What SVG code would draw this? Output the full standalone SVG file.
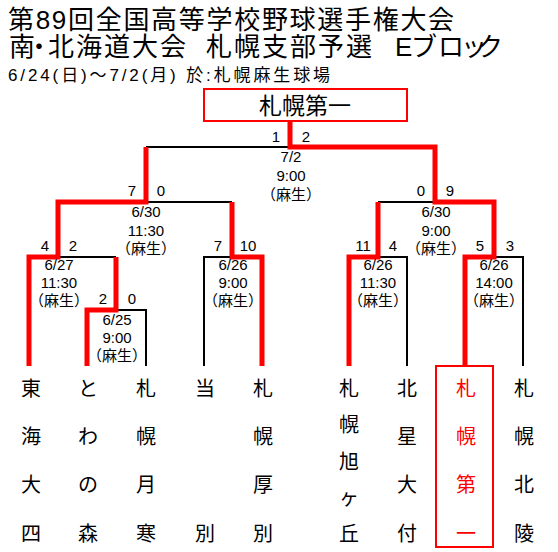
<svg xmlns="http://www.w3.org/2000/svg" width="558" height="552" viewBox="0 0 558 552">
<style>
text { font-family: "Liberation Sans", "Noto Sans CJK JP", sans-serif; fill: #000; }
.title { font-size: 26px; }
.sub { font-size: 17px; }
.lbl { font-size: 15px; text-anchor: middle; }
.team { font-size: 20px; text-anchor: middle; }
.win { fill: #ff0000; }
.red { stroke: #ff0000; stroke-width: 5; fill: none; stroke-linejoin: miter; }
.blk { stroke: #000; stroke-width: 2; fill: none; }
.box { stroke: #ff0000; stroke-width: 2; fill: #fff; }
</style>
<rect width="558" height="552" fill="#fff"/>
<g id="title">
<text class="title"><tspan x="8" y="29" letter-spacing="1.7">第89回全国高等学校野球選手権大会</tspan><tspan x="9 26 48 76 104 132 160 188 206 234 262 290 318 346 374 395 411 438 461 477" y="56">南・北海道大会　札幌支部予選　Eブロック</tspan><tspan class="sub" x="8" y="81" textLength="322" lengthAdjust="spacing">6/24(日)～7/2(月) 於:札幌麻生球場</tspan></text>
</g>
<g id="connectors">
<path class="blk" d="M146,147 H290"/>
<path class="blk" d="M58,257 H116"/>
<path class="blk" d="M116,310 H146 V366"/>
<path class="blk" d="M146,202 H232"/>
<path class="blk" d="M204,366 V257 H232"/>
<path class="blk" d="M378,202 H435"/>
<path class="blk" d="M378,257 H407 V366"/>
<path class="blk" d="M494,257 H523 V366"/>
<path class="red" d="M29,366 V257 H58 V202 H146 V147"/>
<path class="red" d="M87,366 V310 H116 V257"/>
<path class="red" d="M262,366 V257 H232 V202"/>
<path class="red" d="M349,366 V257 H378 V202"/>
<path class="red" d="M465,365 V257 H494 V202 H435 V147 H290 V121"/>
</g>
<g id="champion">
<rect class="box" x="204" y="89" width="203" height="32"/>
<text x="305" y="114" style="font-size:23px;text-anchor:middle">札幌第一</text>
</g>
<g id="labels">
<text class="lbl" x="276" y="142">1</text><text class="lbl" x="306" y="142">2</text>
<text class="lbl"><tspan x="291" y="162">7/2</tspan><tspan x="291" y="181">9:00</tspan><tspan x="291" y="200">（麻生）</tspan></text>
<text class="lbl" x="132" y="196">7</text><text class="lbl" x="161" y="196">0</text>
<text class="lbl"><tspan x="146" y="217">6/30</tspan><tspan x="146" y="236">11:30</tspan><tspan x="146" y="254">（麻生）</tspan></text>
<text class="lbl" x="421" y="196">0</text><text class="lbl" x="450" y="196">9</text>
<text class="lbl"><tspan x="436" y="217">6/30</tspan><tspan x="436" y="236">9:00</tspan><tspan x="436" y="254">（麻生）</tspan></text>
<text class="lbl" x="45" y="251">4</text><text class="lbl" x="73" y="251">2</text>
<text class="lbl"><tspan x="59" y="270">6/27</tspan><tspan x="59" y="288">11:30</tspan><tspan x="59" y="306">（麻生）</tspan></text>
<text class="lbl" x="103" y="304">2</text><text class="lbl" x="132" y="304">0</text>
<text class="lbl"><tspan x="117" y="325">6/25</tspan><tspan x="117" y="343">9:00</tspan><tspan x="117" y="361">（麻生）</tspan></text>
<text class="lbl" x="218" y="251">7</text><text class="lbl" x="248" y="251">10</text>
<text class="lbl"><tspan x="233" y="270">6/26</tspan><tspan x="233" y="288">9:00</tspan><tspan x="233" y="306">（麻生）</tspan></text>
<text class="lbl" x="363" y="251">11</text><text class="lbl" x="393" y="251">4</text>
<text class="lbl"><tspan x="378" y="270">6/26</tspan><tspan x="378" y="288">11:30</tspan><tspan x="378" y="306">（麻生）</tspan></text>
<text class="lbl" x="480" y="251">5</text><text class="lbl" x="510" y="251">3</text>
<text class="lbl"><tspan x="494" y="270">6/26</tspan><tspan x="494" y="288">14:00</tspan><tspan x="494" y="306">（麻生）</tspan></text>
</g>
<g id="team-tokaidai4"><text class="team"><tspan x="31" y="396">東</tspan><tspan x="31" y="444">海</tspan><tspan x="31" y="492">大</tspan><tspan x="31" y="541">四</tspan></text></g>
<g id="team-towanomori"><text class="team"><tspan x="88" y="396">と</tspan><tspan x="88" y="444">わ</tspan><tspan x="88" y="492">の</tspan><tspan x="88" y="541">森</tspan></text></g>
<g id="team-sapporo-tsukisamu"><text class="team"><tspan x="146" y="396">札</tspan><tspan x="146" y="444">幌</tspan><tspan x="146" y="492">月</tspan><tspan x="146" y="541">寒</tspan></text></g>
<g id="team-tobetsu"><text class="team"><tspan x="205" y="396">当</tspan><tspan x="205" y="541">別</tspan></text></g>
<g id="team-sapporo-atsubetsu"><text class="team"><tspan x="263" y="396">札</tspan><tspan x="263" y="444">幌</tspan><tspan x="263" y="492">厚</tspan><tspan x="263" y="541">別</tspan></text></g>
<g id="team-sapporo-asahigaoka"><text class="team"><tspan x="349" y="396">札</tspan><tspan x="349" y="432">幌</tspan><tspan x="349" y="469">旭</tspan><tspan x="349" y="505">ヶ</tspan><tspan x="349" y="541">丘</tspan></text></g>
<g id="team-hokusei-daifu"><text class="team"><tspan x="407" y="396">北</tspan><tspan x="407" y="444">星</tspan><tspan x="407" y="492">大</tspan><tspan x="407" y="541">付</tspan></text></g>
<g id="team-sapporo-daiichi">
<rect class="box" x="436" y="366" width="57" height="181" fill="none"/>
<text class="team win"><tspan x="466" y="396">札</tspan><tspan x="466" y="444">幌</tspan><tspan x="466" y="492">第</tspan><tspan x="466" y="541">一</tspan></text>
</g>
<g id="team-sapporo-hokuryo"><text class="team"><tspan x="524" y="396">札</tspan><tspan x="524" y="444">幌</tspan><tspan x="524" y="492">北</tspan><tspan x="524" y="541">陵</tspan></text></g>
</svg>
